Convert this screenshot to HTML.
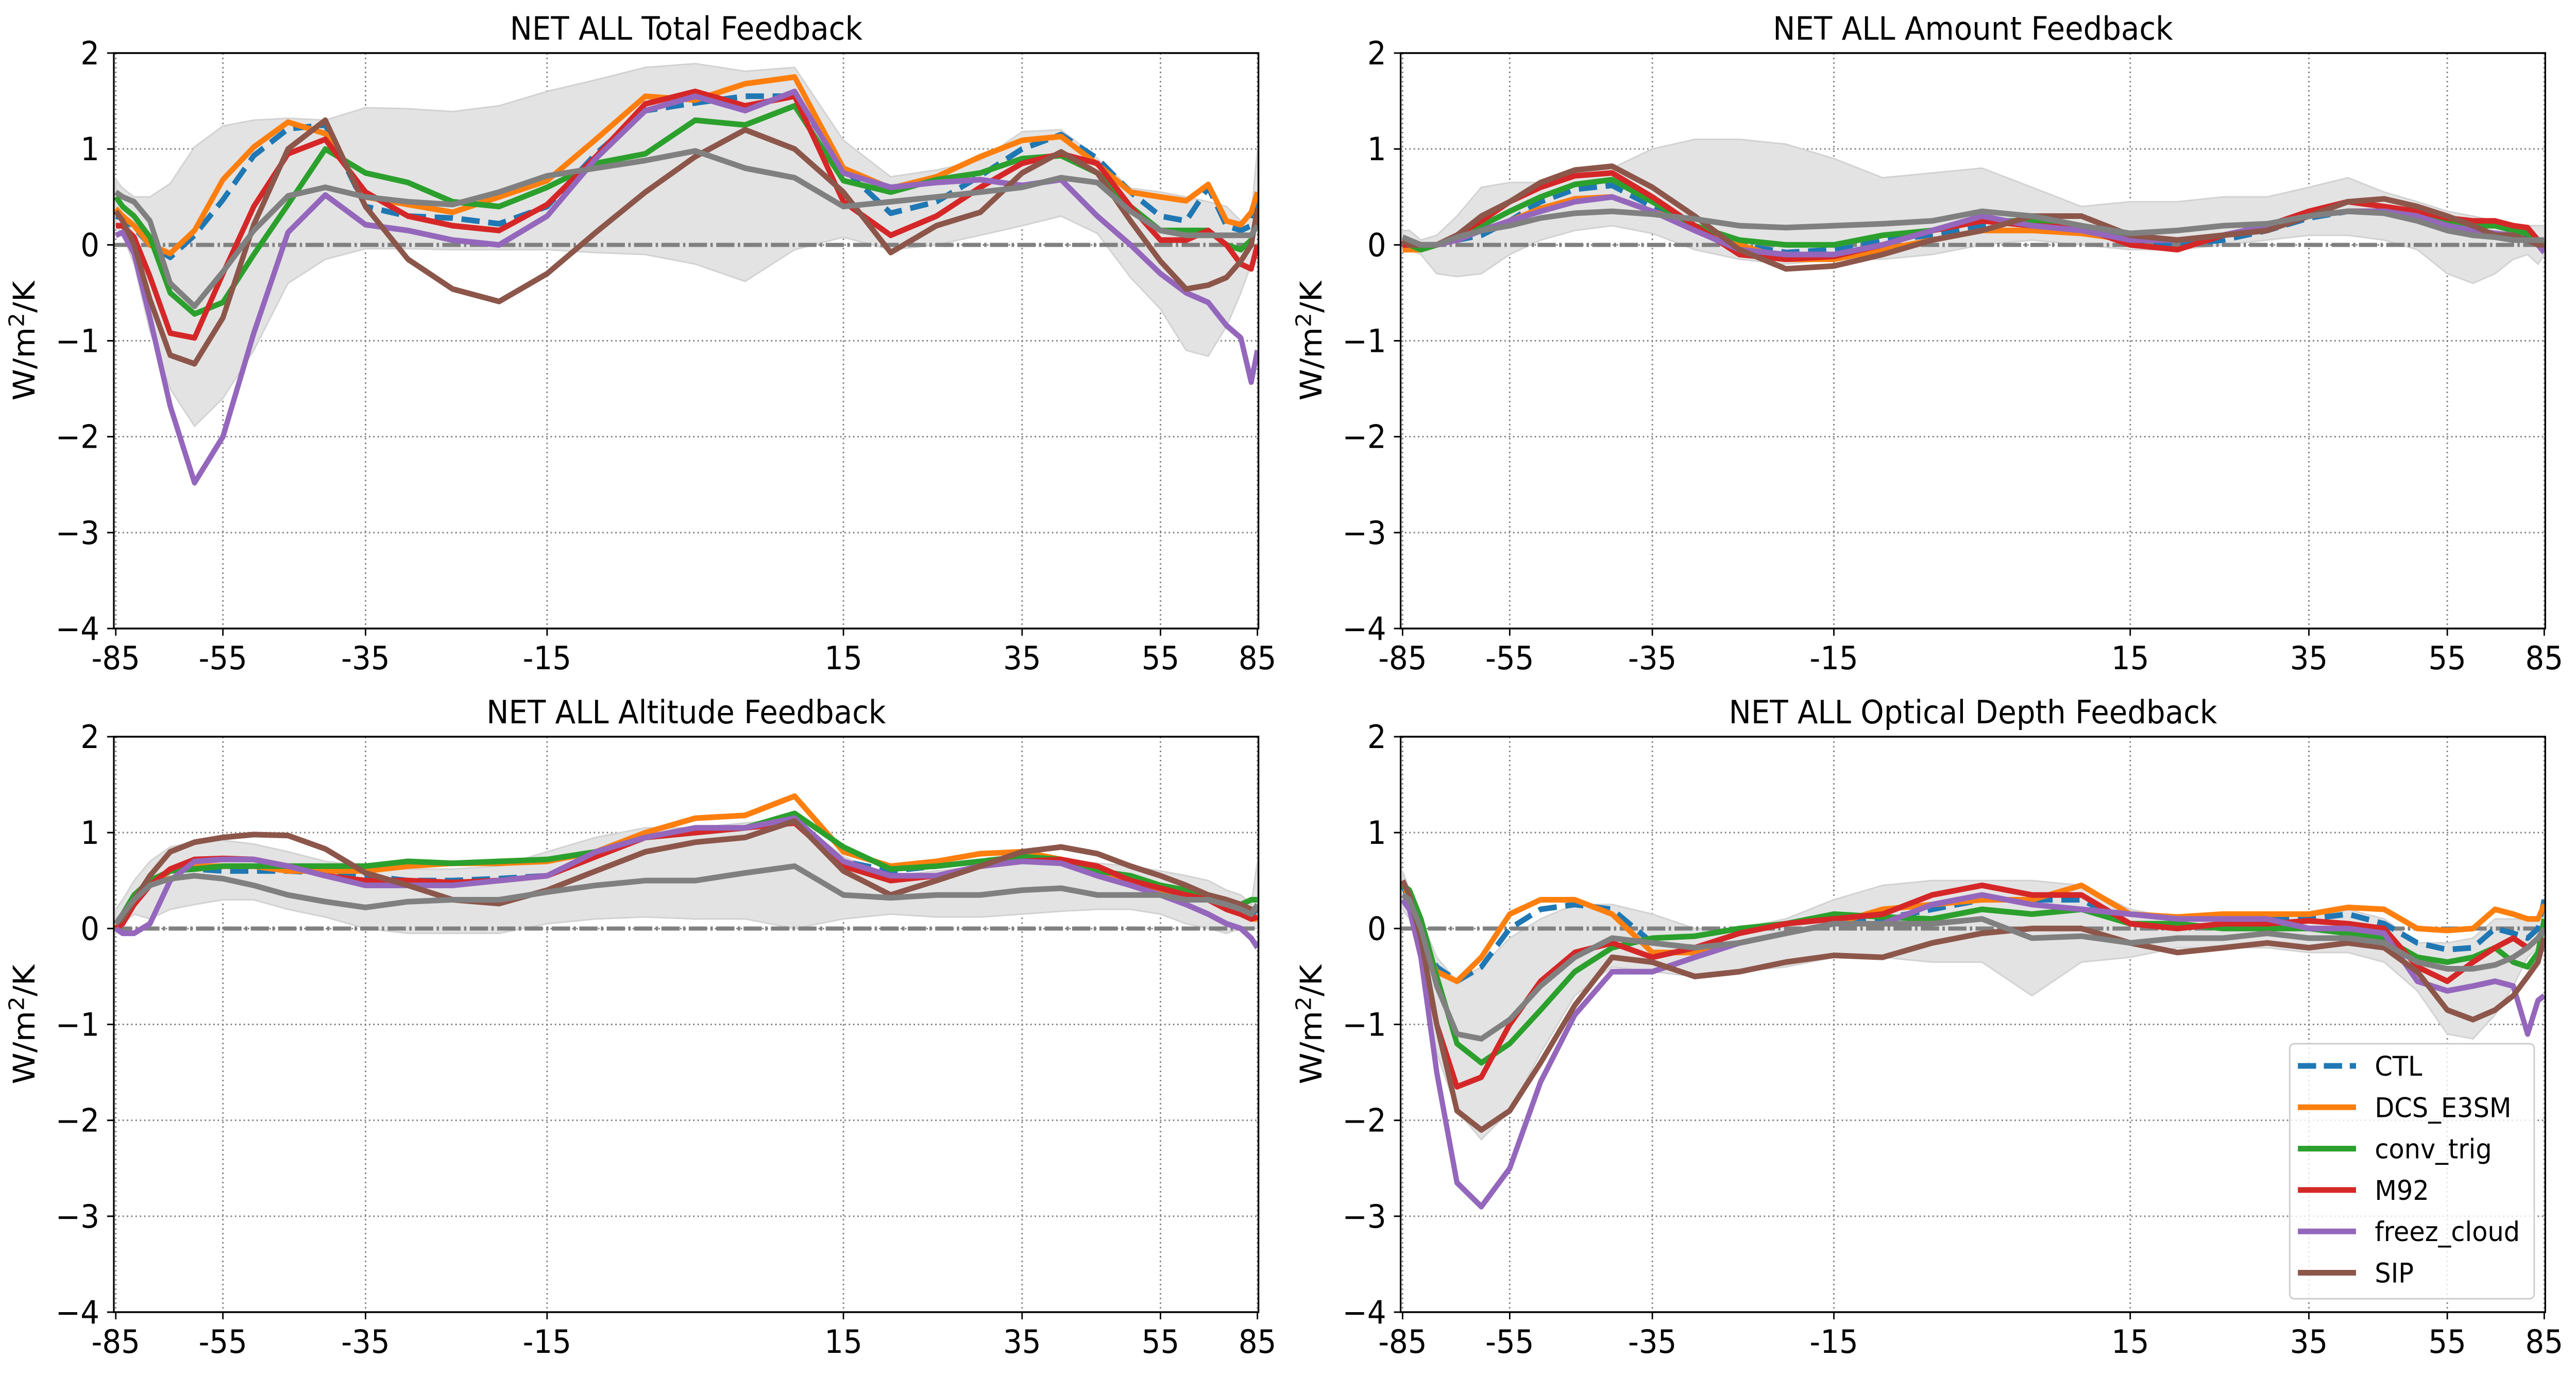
<!DOCTYPE html>
<html><head><meta charset="utf-8"><style>
html,body{margin:0;padding:0;background:#fff;width:100vw;height:100vh;overflow:hidden;}
svg{display:block;width:100vw;height:100vh;}
text{font-family:"DejaVu Sans","Liberation Sans",sans-serif;fill:#000;}
</style></head><body>
<svg id="fig" xmlns="http://www.w3.org/2000/svg" viewBox="0 0 5363 2669" preserveAspectRatio="none"></svg>
<script>
const lats=[-85,-80,-75,-70,-65,-60,-55,-50,-45,-40,-35,-30,-25,-20,-15,-10,-5,0,5,10,15,20,25,30,35,40,45,50,55,60,65,70,75,80,85];
const xTickLabels=[-85,-55,-35,-15,15,35,55,85];
const yTickValues=[2,1,0,-1,-2,-3,-4];
const seriesNames=["CTL","DCS_E3SM","conv_trig","M92","freez_cloud","SIP"];
const panelTitles=["NET ALL Total Feedback","NET ALL Amount Feedback","NET ALL Altitude Feedback","NET ALL Optical Depth Feedback"];

// Total
const totCTL=[0.3,0.28,0.18,0.0,-0.13,0.1,0.47,0.93,1.21,1.25,0.4,0.3,0.28,0.22,0.4,0.95,1.4,1.48,1.55,1.55,0.8,0.33,0.45,0.72,1.0,1.15,0.9,0.55,0.3,0.25,0.6,0.2,0.15,0.2,0.5];
const totDCS=[0.38,0.3,0.2,0.0,-0.09,0.15,0.68,1.02,1.28,1.16,0.5,0.42,0.34,0.5,0.67,1.1,1.55,1.51,1.68,1.75,0.8,0.59,0.71,0.92,1.09,1.13,0.84,0.55,0.5,0.46,0.63,0.25,0.21,0.34,0.55];
const totConv=[0.5,0.4,0.3,0.08,-0.5,-0.72,-0.6,-0.1,0.42,1.0,0.75,0.65,0.45,0.4,0.6,0.85,0.95,1.3,1.25,1.45,0.67,0.55,0.68,0.75,0.9,0.93,0.75,0.4,0.15,0.15,0.15,0.0,-0.05,0.05,0.3];
const totM92=[0.2,0.2,0.08,-0.33,-0.92,-0.97,-0.3,0.4,0.95,1.1,0.55,0.3,0.2,0.15,0.42,0.92,1.47,1.6,1.45,1.55,0.45,0.1,0.3,0.6,0.85,0.95,0.85,0.4,0.05,0.05,0.15,0.0,-0.2,-0.25,0.0];
const totFreez=[0.1,0.13,-0.09,-0.76,-1.68,-2.48,-2.0,-0.92,0.13,0.52,0.21,0.15,0.05,0.0,0.3,0.9,1.4,1.55,1.4,1.6,0.75,0.6,0.65,0.68,0.62,0.68,0.3,0.0,-0.3,-0.5,-0.6,-0.84,-0.97,-1.43,-1.1];
const totSIP=[0.35,0.25,0.0,-0.57,-1.15,-1.24,-0.76,0.21,1.0,1.3,0.4,-0.15,-0.46,-0.59,-0.3,0.13,0.55,0.92,1.2,1.0,0.55,-0.08,0.2,0.34,0.75,0.97,0.75,0.25,-0.17,-0.46,-0.42,-0.34,-0.17,0.0,0.38];
const totMean=[0.55,0.5,0.45,0.25,-0.4,-0.64,-0.28,0.15,0.51,0.6,0.5,0.45,0.42,0.55,0.72,0.8,0.88,0.98,0.8,0.7,0.4,0.45,0.5,0.55,0.6,0.7,0.65,0.35,0.15,0.1,0.1,0.1,0.1,0.1,0.2];
const totHi=[0.68,0.59,0.5,0.5,0.64,1.02,1.24,1.3,1.32,1.3,1.43,1.42,1.39,1.45,1.6,1.72,1.85,1.89,1.81,1.85,1.09,0.71,0.78,0.88,1.18,1.2,0.9,0.59,0.55,0.5,0.45,0.4,0.25,0.3,1.0];
const totLo=[0.2,0.1,-0.2,-0.9,-1.5,-1.89,-1.6,-1.1,-0.4,-0.15,-0.04,-0.04,-0.05,-0.05,-0.05,-0.08,-0.1,-0.2,-0.38,-0.05,0.08,-0.05,0.0,0.1,0.2,0.3,0.12,-0.34,-0.67,-1.1,-1.16,-0.85,-0.5,-0.2,0.3];

// Amount
const amtCTL=[0.0,0.0,-0.05,0.0,0.05,0.1,0.25,0.45,0.58,0.62,0.4,0.15,0.0,-0.08,-0.05,0.05,0.1,0.2,0.25,0.2,0.05,0.0,0.05,0.15,0.28,0.35,0.35,0.3,0.15,0.1,0.1,0.1,0.08,0.0,0.0];
const amtDCS=[-0.05,-0.05,-0.05,0.0,0.05,0.15,0.25,0.38,0.48,0.5,0.35,0.2,0.0,-0.15,-0.15,-0.05,0.05,0.15,0.15,0.12,0.05,0.05,0.1,0.2,0.3,0.35,0.35,0.3,0.2,0.2,0.2,0.2,0.15,0.05,0.0];
const amtConv=[0.0,0.0,-0.05,0.0,0.08,0.2,0.35,0.5,0.63,0.68,0.45,0.2,0.05,0.0,0.0,0.1,0.15,0.25,0.25,0.2,0.05,0.05,0.1,0.2,0.3,0.35,0.35,0.3,0.25,0.2,0.2,0.15,0.12,0.05,0.0];
const amtM92=[0.0,0.0,0.0,0.0,0.1,0.25,0.45,0.6,0.72,0.75,0.5,0.2,-0.1,-0.15,-0.12,0.0,0.15,0.25,0.2,0.18,0.0,-0.05,0.1,0.2,0.35,0.45,0.4,0.35,0.28,0.25,0.25,0.2,0.18,0.05,-0.05];
const amtFreez=[0.05,0.0,0.0,0.0,0.05,0.15,0.25,0.35,0.45,0.5,0.35,0.15,-0.05,-0.1,-0.1,0.0,0.15,0.3,0.2,0.15,0.05,0.05,0.1,0.2,0.3,0.35,0.35,0.3,0.2,0.15,0.12,0.1,0.05,0.0,-0.08];
const amtSIP=[0.05,0.0,0.0,0.0,0.1,0.3,0.45,0.65,0.78,0.82,0.6,0.3,-0.05,-0.25,-0.22,-0.1,0.05,0.15,0.3,0.3,0.1,0.05,0.1,0.15,0.3,0.45,0.48,0.4,0.3,0.2,0.1,0.1,0.05,0.0,0.0];
const amtMean=[0.08,0.05,0.0,0.0,0.08,0.15,0.2,0.28,0.33,0.35,0.32,0.27,0.2,0.18,0.2,0.22,0.25,0.35,0.3,0.2,0.12,0.15,0.2,0.22,0.3,0.35,0.33,0.25,0.15,0.1,0.08,0.05,0.05,0.05,0.05];
const amtHi=[0.15,0.15,0.05,0.1,0.3,0.6,0.65,0.65,0.75,0.8,1.0,1.1,1.1,1.05,0.9,0.7,0.75,0.8,0.6,0.4,0.45,0.45,0.5,0.5,0.6,0.7,0.55,0.45,0.35,0.3,0.25,0.2,0.2,0.2,0.2];
const amtLo=[-0.05,-0.05,-0.1,-0.3,-0.33,-0.3,-0.1,0.05,0.15,0.2,0.12,-0.05,-0.15,-0.2,-0.15,-0.15,-0.1,0.0,0.05,0.0,-0.05,-0.05,0.0,0.05,0.1,0.1,0.05,-0.05,-0.3,-0.4,-0.3,-0.15,-0.1,-0.2,-0.1];

// Altitude
const altCTL=[0.05,0.1,0.3,0.45,0.6,0.62,0.6,0.6,0.6,0.58,0.55,0.5,0.5,0.52,0.55,0.75,0.95,1.0,1.05,1.15,0.7,0.6,0.65,0.7,0.75,0.7,0.62,0.5,0.42,0.35,0.3,0.25,0.2,0.15,0.2];
const altDCS=[0.0,0.1,0.3,0.45,0.6,0.65,0.65,0.65,0.6,0.6,0.6,0.65,0.68,0.68,0.7,0.8,1.0,1.15,1.18,1.38,0.8,0.65,0.7,0.78,0.8,0.72,0.6,0.5,0.38,0.35,0.3,0.25,0.15,0.1,0.1];
const altConv=[0.05,0.15,0.35,0.5,0.6,0.62,0.65,0.65,0.65,0.65,0.65,0.7,0.68,0.7,0.72,0.8,0.95,1.0,1.05,1.2,0.85,0.62,0.65,0.7,0.75,0.72,0.6,0.55,0.45,0.4,0.35,0.3,0.25,0.3,0.3];
const altM92=[0.0,0.05,0.25,0.45,0.62,0.72,0.73,0.72,0.65,0.55,0.5,0.5,0.48,0.5,0.55,0.75,0.95,1.0,1.05,1.1,0.65,0.5,0.55,0.65,0.7,0.72,0.65,0.5,0.42,0.35,0.3,0.2,0.15,0.1,0.12];
const altFreez=[0.0,-0.05,-0.05,0.05,0.5,0.7,0.72,0.72,0.65,0.55,0.45,0.45,0.45,0.5,0.55,0.8,0.95,1.05,1.05,1.15,0.7,0.55,0.55,0.65,0.7,0.68,0.55,0.45,0.35,0.25,0.15,0.05,0.0,-0.1,-0.2];
const altSIP=[0.05,0.1,0.3,0.55,0.8,0.9,0.95,0.98,0.97,0.83,0.58,0.45,0.3,0.26,0.4,0.6,0.8,0.9,0.95,1.12,0.6,0.35,0.5,0.65,0.8,0.85,0.78,0.65,0.55,0.45,0.35,0.3,0.25,0.2,0.2];
const altMean=[0.05,0.15,0.3,0.45,0.52,0.55,0.52,0.45,0.35,0.28,0.22,0.28,0.3,0.3,0.38,0.45,0.5,0.5,0.58,0.65,0.35,0.32,0.35,0.35,0.4,0.42,0.35,0.35,0.35,0.3,0.3,0.25,0.2,0.15,0.25];
const altHi=[0.2,0.3,0.5,0.7,0.85,0.9,0.92,0.88,0.8,0.7,0.65,0.62,0.62,0.65,0.8,0.95,1.05,1.05,1.1,1.15,0.75,0.55,0.6,0.65,0.7,0.72,0.68,0.65,0.6,0.55,0.5,0.4,0.35,0.25,0.7];
const altLo=[-0.05,0.05,0.15,0.1,0.2,0.25,0.3,0.3,0.2,0.12,0.0,-0.05,-0.05,-0.05,0.05,0.1,0.12,0.1,0.1,0.0,0.1,0.15,0.12,0.12,0.15,0.18,0.2,0.2,0.15,0.05,0.0,-0.05,0.0,0.0,0.0];

// Optical depth
const optCTL=[0.45,0.3,-0.1,-0.4,-0.55,-0.4,0.0,0.2,0.25,0.2,-0.15,-0.2,-0.15,-0.05,0.05,0.1,0.2,0.3,0.3,0.3,0.05,0.0,0.05,0.1,0.1,0.15,0.05,-0.15,-0.22,-0.2,0.0,-0.05,-0.1,0.0,0.3];
const optDCS=[0.5,0.3,-0.1,-0.45,-0.55,-0.3,0.15,0.3,0.3,0.15,-0.25,-0.25,-0.15,-0.05,0.05,0.2,0.25,0.3,0.3,0.45,0.15,0.12,0.15,0.15,0.15,0.22,0.2,0.0,-0.02,0.0,0.2,0.15,0.1,0.1,0.25];
const optConv=[0.45,0.4,0.1,-0.5,-1.2,-1.4,-1.2,-0.85,-0.45,-0.2,-0.1,-0.08,0.0,0.05,0.15,0.12,0.1,0.2,0.15,0.2,0.05,0.05,0.0,0.0,0.0,-0.05,-0.1,-0.3,-0.35,-0.3,-0.2,-0.35,-0.4,-0.25,0.1];
const optM92=[0.3,0.2,-0.2,-1.0,-1.65,-1.55,-1.0,-0.55,-0.25,-0.15,-0.3,-0.2,-0.05,0.05,0.1,0.15,0.35,0.45,0.35,0.35,0.05,0.0,0.05,0.05,0.08,0.05,0.0,-0.4,-0.55,-0.35,-0.2,-0.1,-0.2,-0.1,0.0];
const optFreez=[0.3,0.2,-0.3,-1.5,-2.65,-2.9,-2.5,-1.6,-0.9,-0.45,-0.45,-0.3,-0.15,-0.05,0.05,0.05,0.25,0.35,0.25,0.2,0.15,0.1,0.1,0.1,0.0,0.0,-0.05,-0.55,-0.65,-0.6,-0.55,-0.6,-1.1,-0.75,-0.7];
const optSIP=[0.5,0.35,-0.1,-1.0,-1.9,-2.1,-1.9,-1.4,-0.8,-0.3,-0.35,-0.5,-0.45,-0.35,-0.28,-0.3,-0.15,-0.05,0.0,0.0,-0.15,-0.25,-0.2,-0.15,-0.2,-0.15,-0.2,-0.45,-0.85,-0.95,-0.85,-0.7,-0.5,-0.35,-0.1];
const optMean=[0.35,0.3,0.0,-0.6,-1.1,-1.15,-0.95,-0.6,-0.3,-0.1,-0.15,-0.2,-0.15,-0.05,0.05,0.05,0.05,0.1,-0.1,-0.08,-0.15,-0.1,-0.1,-0.05,-0.1,-0.1,-0.15,-0.35,-0.42,-0.42,-0.38,-0.3,-0.2,-0.1,0.0];
const optHi=[0.6,0.4,0.1,-0.3,-0.55,-0.4,-0.1,0.1,0.25,0.25,0.15,0.0,0.0,0.1,0.3,0.45,0.5,0.5,0.5,0.45,0.2,0.1,0.1,0.15,0.15,0.2,0.1,-0.15,-0.15,-0.1,0.1,0.1,0.1,0.1,0.2];
const optLo=[0.2,0.1,-0.3,-1.3,-1.9,-2.2,-1.9,-1.3,-0.7,-0.4,-0.45,-0.5,-0.45,-0.4,-0.3,-0.3,-0.35,-0.35,-0.7,-0.35,-0.3,-0.2,-0.2,-0.2,-0.25,-0.25,-0.35,-0.65,-1.1,-1.15,-0.9,-0.6,-0.3,-0.2,-0.1];

const NS="http://www.w3.org/2000/svg";
const svg=document.getElementById("fig");
const W=2383,H=1117,YMIN=-4,YMAX=2;
const tickFrac=[0.0017,0.0953,0.2199,0.3785,0.6374,0.7935,0.9144,0.9991];
const colors=["#1f77b4","#ff7f0e","#2ca02c","#d62728","#9467bd","#8c564b"];
const panels=[
 {x0:237,y0:103,series:[totCTL,totDCS,totConv,totM92,totFreez,totSIP],mean:totMean,hi:totHi,lo:totLo,key:"total"},
 {x0:2916,y0:103,series:[amtCTL,amtDCS,amtConv,amtM92,amtFreez,amtSIP],mean:amtMean,hi:amtHi,lo:amtLo,key:"amount"},
 {x0:237,y0:1430,series:[altCTL,altDCS,altConv,altM92,altFreez,altSIP],mean:altMean,hi:altHi,lo:altLo,key:"altitude"},
 {x0:2916,y0:1430,series:[optCTL,optDCS,optConv,optM92,optFreez,optSIP],mean:optMean,hi:optHi,lo:optLo,key:"optical-depth"}
];
function sinD(a){return Math.sin(a*Math.PI/180);}
function xFrac(lat){
  const t=xTickLabels;
  let i=0;
  if(lat<=t[0]) i=0; else if(lat>=t[t.length-1]) i=t.length-2;
  else {while(!(lat>=t[i]&&lat<=t[i+1])) i++;}
  const s0=sinD(t[i]),s1=sinD(t[i+1]);
  return tickFrac[i]+(sinD(lat)-s0)/(s1-s0)*(tickFrac[i+1]-tickFrac[i]);
}
function el(tag,attrs,parent){const e=document.createElementNS(NS,tag);for(const k in attrs)e.setAttribute(k,attrs[k]);(parent||svg).appendChild(e);return e;}

panels.forEach((p,pi)=>{
  const X=lat=>p.x0+xFrac(lat)*W;
  const Y=v=>p.y0+(YMAX-v)/(YMAX-YMIN)*H;
  const g=el("g",{});
  
  
  const clipId="clip"+pi;
  const cp=el("clipPath",{id:clipId},g);
  el("rect",{x:p.x0,y:p.y0,width:W,height:H},cp);
  xTickLabels.forEach(t=>{
    const l=el("line",{x1:X(t),x2:X(t),y1:p.y0,y2:p.y0+H,stroke:"#808080","stroke-width":3,"stroke-dasharray":"3 6"},g);
    
    
  });
  yTickValues.forEach(v=>{
    const l=el("line",{x1:p.x0,x2:p.x0+W,y1:Y(v),y2:Y(v),stroke:"#808080","stroke-width":3,"stroke-dasharray":"3 6"},g);
    
    
  });
  const dg=el("g",{"clip-path":"url(#"+clipId+")"},g);
  let d="";
  lats.forEach((la,i)=>{d+=(i?"L":"M")+X(la).toFixed(1)+","+Y(p.hi[i]).toFixed(1);});
  for(let i=lats.length-1;i>=0;i--) d+="L"+X(lats[i]).toFixed(1)+","+Y(p.lo[i]).toFixed(1);
  const band=el("path",{d:d+"Z",fill:"#e3e3e3",stroke:"#d2d2d2","stroke-width":3},dg);
  
  
  const z=el("line",{x1:p.x0,x2:p.x0+W,y1:Y(0),y2:Y(0),stroke:"#808080","stroke-width":8,"stroke-dasharray":"38 7 5 7"},dg);
  
  
  function line(vals,color,name,dash){
    const pts=lats.map((la,i)=>X(la).toFixed(1)+","+Y(vals[i]).toFixed(1)).join(" ");
    const a={points:pts,fill:"none",stroke:color,"stroke-width":11,"stroke-linejoin":"round"};
    if(dash)a["stroke-dasharray"]=dash;
    const l=el("polyline",a,dg);
    
    
  }
  p.series.forEach((s,si)=>line(s,colors[si],seriesNames[si].toLowerCase().replace('_','-')+'-line',si===0?"38 18":null));
  line(p.mean,"#808080","mean-line",null);
  const sp=el("rect",{x:p.x0,y:p.y0,width:W,height:H,fill:"none",stroke:"#000","stroke-width":3.5},g);
  
  
  xTickLabels.forEach(t=>{
    el("line",{x1:X(t),x2:X(t),y1:p.y0+H,y2:p.y0+H+14,stroke:"#000","stroke-width":3},g);
    const tx=el("text",{x:X(t),y:p.y0+H+79,"font-size":62,"text-anchor":"middle"},g);
    tx.textContent=String(t);
    
    
  });
  yTickValues.forEach(v=>{
    el("line",{x1:p.x0-14,x2:p.x0,y1:Y(v),y2:Y(v),stroke:"#000","stroke-width":3},g);
    const tx=el("text",{x:p.x0-30,y:Y(v)+22,"font-size":62,"text-anchor":"end"},g);
    tx.textContent=v<0?"\u2212"+Math.abs(v):String(v);
    
    
  });
  const yl=el("text",{x:0,y:0,"font-size":62,"text-anchor":"middle",transform:"translate("+(p.x0-165)+","+(p.y0+H/2)+") rotate(-90)"},g);
  yl.innerHTML='W/m<tspan dy="-22" font-size="44">2</tspan><tspan dy="22">/K</tspan>';
  
  
  const tt=el("text",{x:p.x0+W/2,y:p.y0-26,"font-size":62,"text-anchor":"middle"},g);
  tt.textContent=panelTitles[pi];
  
  
});

const lg=el("g",{});


el("rect",{x:4767,y:2026,width:509,height:495,rx:9,fill:"#fff","fill-opacity":0.8,stroke:"#cccccc","stroke-width":3},lg);
seriesNames.forEach((n,i)=>{
  const cy=2069+i*80.3;
  const a={x1:4784,x2:4905,y1:cy,y2:cy,stroke:colors[i],"stroke-width":11};
  if(i===0)a["stroke-dasharray"]="38 16";
  const l=el("line",a,lg);
  
  
  const t=el("text",{x:4944,y:cy+19,"font-size":53},lg);
  t.textContent=n;
  
  
});
</script>
</body></html>
